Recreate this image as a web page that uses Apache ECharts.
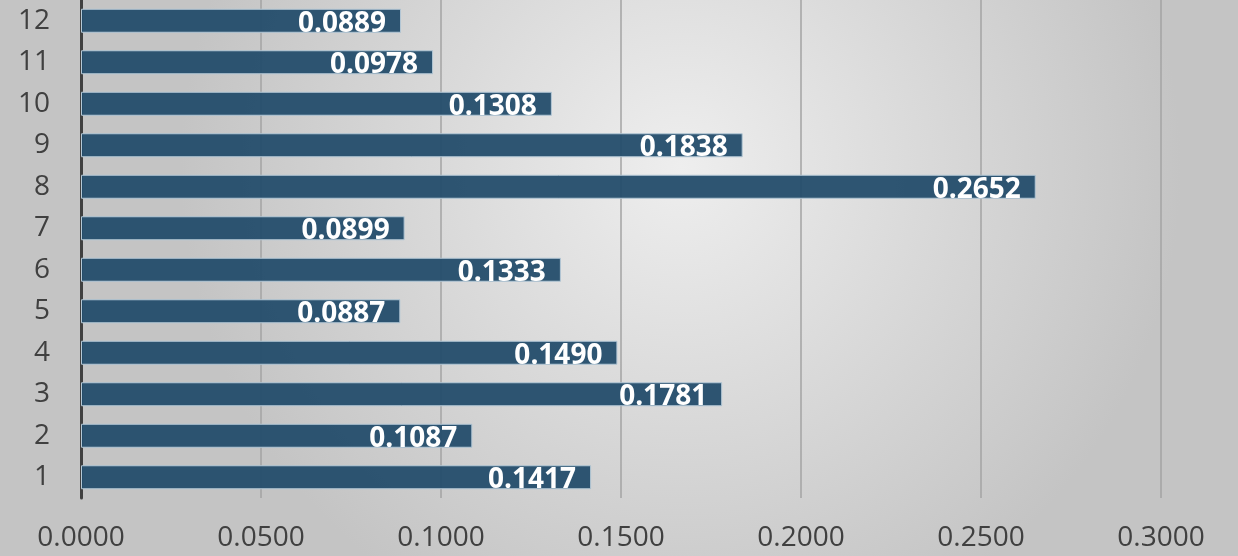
<!DOCTYPE html>
<html>
<head>
<meta charset="utf-8">
<script src="https://cdn.jsdelivr.net/npm/echarts@6/dist/echarts.min.js"></script>
<style>
  html, body { margin: 0; padding: 0; }
  #chart { width: 1238px; height: 556px; }
</style>
</head>
<body>
<div id="chart"></div>
<script>
// categories bottom to top
const months = ['1', '2', '3', '4', '5', '6', '7', '8', '9', '10', '11', '12'];
const values = [0.1417, 0.1087, 0.1781, 0.1490, 0.0887, 0.1333, 0.0899, 0.2652, 0.1838, 0.1308, 0.0978, 0.0889];

const chart = echarts.init(document.getElementById('chart'));

const option = {
    backgroundColor: {
        type: 'radial',
        x: 0.55, y: 0.3, r: 0.9,
        colorStops: [
            { offset: 0, color: '#eeeeee' },
            { offset: 1, color: '#c4c4c4' }
        ]
    },
    grid: {
        left: 81,
        right: 77,
        top: 0,
        bottom: 58
    },
    xAxis: {
        type: 'value',
        min: 0,
        max: 0.3,
        interval: 0.05,
        axisLine: { show: false },
        axisTick: { show: false },
        axisLabel: {
            margin: 26,
            fontFamily: 'Open Sans',
            fontSize: 28,
            color: '#404040',
            formatter: function (v) { return v.toFixed(4); }
        },
        splitLine: {
            lineStyle: { color: '#a3a3a3', width: 1.5 }
        }
    },
    yAxis: {
        type: 'category',
        data: months,
        axisLine: {
            lineStyle: { color: '#404040', width: 3 }
        },
        axisTick: { show: false },
        axisLabel: {
            margin: 31,
            fontFamily: 'Open Sans',
            fontSize: 28,
            color: '#404040'
        }
    },
    series: [
        {
            type: 'bar',
            data: values,
            barWidth: 24,
            itemStyle: {
                color: 'rgba(36, 77, 108, 0.95)',
                borderColor: '#b4c8d6',
                borderWidth: 1
            },
            label: {
                show: true,
                position: 'insideRight',
                distance: 15,
                offset: [0, 3],
                fontFamily: 'Open Sans',
                fontWeight: 'bold',
                fontSize: 28,
                color: '#ffffff',
                formatter: function (p) { return p.value.toFixed(4); }
            }
        }
    ]
};

chart.setOption(option);

window.addEventListener('resize', function () {
    chart.resize();
});
</script>
</body>
</html>
